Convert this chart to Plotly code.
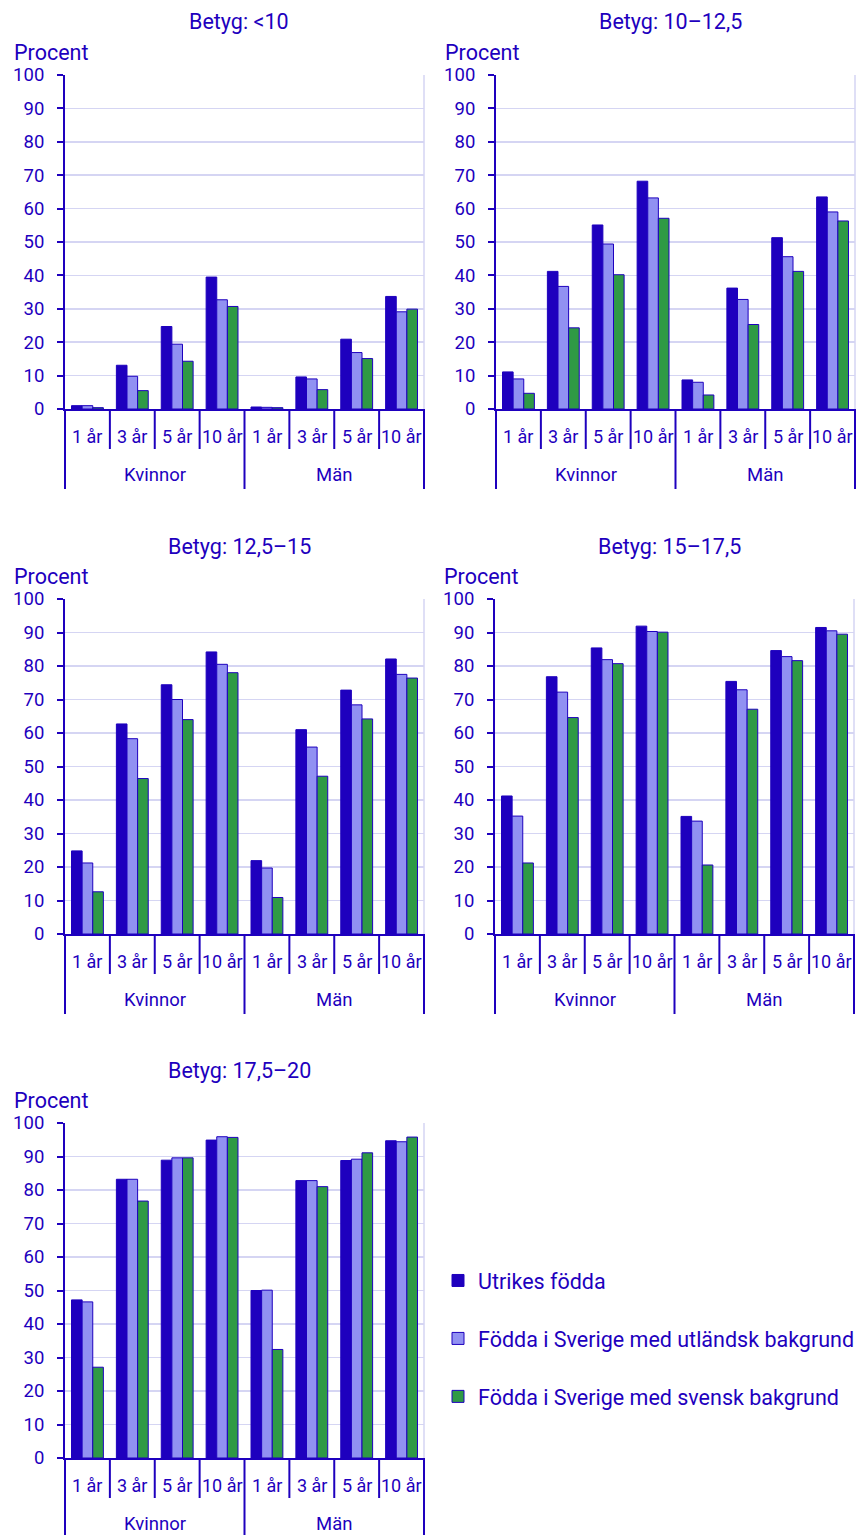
import plotly.graph_objects as go

# ---------------- data ----------------
genders = ["Kvinnor", "Män"]
years = ["1 år", "3 år", "5 år", "10 år"]
series_names = [
    "Utrikes födda",
    "Födda i Sverige med utländsk bakgrund",
    "Födda i Sverige med svensk bakgrund",
]
panel_titles = ["Betyg: <10", "Betyg: 10–12,5", "Betyg: 12,5–15", "Betyg: 15–17,5", "Betyg: 17,5–20"]
y_ticks = [0, 10, 20, 30, 40, 50, 60, 70, 80, 90, 100]
y_title = "Procent"

# values ordered Kvinnor 1,3,5,10 år, Män 1,3,5,10 år
lt10_utrikes = [1.0, 13.1, 24.7, 39.5, 0.6, 9.6, 20.9, 33.7]
lt10_utl_bakgrund = [1.0, 9.8, 19.4, 32.7, 0.5, 9.0, 16.9, 29.1]
lt10_sv_bakgrund = [0.4, 5.5, 14.3, 30.7, 0.4, 5.8, 15.1, 29.9]

b10_125_utrikes = [11.1, 41.2, 55.1, 68.2, 8.7, 36.2, 51.3, 63.5]
b10_125_utl_bakgrund = [9.0, 36.7, 49.4, 63.2, 8.0, 32.8, 45.6, 59.0]
b10_125_sv_bakgrund = [4.7, 24.3, 40.2, 57.1, 4.2, 25.3, 41.2, 56.3]

b125_15_utrikes = [24.8, 62.7, 74.4, 84.2, 21.9, 61.0, 72.8, 82.1]
b125_15_utl_bakgrund = [21.2, 58.3, 70.0, 80.5, 19.7, 55.8, 68.4, 77.5]
b125_15_sv_bakgrund = [12.6, 46.4, 64.0, 78.0, 10.9, 47.1, 64.2, 76.4]

b15_175_utrikes = [41.2, 76.8, 85.4, 91.9, 35.1, 75.4, 84.6, 91.5]
b15_175_utl_bakgrund = [35.2, 72.2, 81.9, 90.3, 33.7, 72.9, 82.8, 90.5]
b15_175_sv_bakgrund = [21.2, 64.6, 80.7, 90.1, 20.6, 67.1, 81.6, 89.5]

b175_20_utrikes = [47.2, 83.2, 88.9, 94.9, 50.0, 82.8, 88.8, 94.7]
b175_20_utl_bakgrund = [46.6, 83.2, 89.6, 95.9, 50.1, 82.8, 89.2, 94.4]
b175_20_sv_bakgrund = [27.1, 76.7, 89.6, 95.7, 32.4, 81.0, 91.1, 95.8]

panels = [
    [lt10_utrikes, lt10_utl_bakgrund, lt10_sv_bakgrund],
    [b10_125_utrikes, b10_125_utl_bakgrund, b10_125_sv_bakgrund],
    [b125_15_utrikes, b125_15_utl_bakgrund, b125_15_sv_bakgrund],
    [b15_175_utrikes, b15_175_utl_bakgrund, b15_175_sv_bakgrund],
    [b175_20_utrikes, b175_20_utl_bakgrund, b175_20_sv_bakgrund],
]

# ---------------- style ----------------
W, H = 856, 1535
DARK = "#1E00BE"
COLORS = ["#1E00BE", "#9191F2", "#2F9A45"]
GRID = "#D5D5F3"
FONT = "Roboto"

# panel plot areas in pixels: (left, right, top, bottom)
boxes = [
    (65, 424, 75, 409),
    (496, 855, 75, 409),
    (65, 424, 599, 934),
    (495, 854, 599, 934),
    (65, 424, 1123, 1458),
]

cats = [f"{g} {y}" for g in genders for y in years]

fig = go.Figure()
shapes = []
annotations = []

for p, (vals, box) in enumerate(zip(panels, boxes)):
    l, r, t, b = box
    pw, ph = r - l, b - t
    sfx = "" if p == 0 else str(p + 1)
    xname, yname = "x" + sfx, "y" + sfx
    for s, (name, v) in enumerate(zip(series_names, vals)):
        fig.add_trace(go.Bar(
            x=cats, y=v, name=name, xaxis=xname, yaxis=yname,
            marker=dict(color=COLORS[s], line=dict(color=DARK, width=1)),
            showlegend=(p == 0), legendgroup=str(s), offsetgroup=str(s),
            hoverinfo="skip",
        ))
    fig.layout["xaxis" + sfx] = dict(
        domain=[l / W, r / W], anchor=yname, type="category",
        categoryorder="array", categoryarray=cats, range=[-0.5, len(cats) - 0.5],
        showticklabels=False, ticks="", showgrid=False, zeroline=False,
        showline=True, linecolor=DARK, linewidth=2, fixedrange=True,
        automargin=False,
    )
    fig.layout["yaxis" + sfx] = dict(
        domain=[1 - b / H, 1 - t / H], anchor=xname, range=[0, 100],
        tickvals=y_ticks, ticks="outside", ticklen=6, tickwidth=2, tickcolor=DARK,
        showline=True, linecolor=DARK, linewidth=2,
        showgrid=True, gridcolor=GRID, gridwidth=1.5, zeroline=False,
        tickfont=dict(family=FONT, size=18.5, color=DARK), ticklabelstandoff=9,
        fixedrange=True, automargin=False,
    )
    xd, yd = xname + " domain", yname + " domain"
    # right border
    shapes.append(dict(type="line", xref=xd, yref=yd, x0=1, x1=1, y0=0, y1=1,
                       line=dict(color=GRID, width=1.5), layer="below"))
    # category separators
    n = len(cats)
    for k in range(n + 1):
        long_ = (k % len(years) == 0)
        depth = (80 if long_ else 40) / ph
        shapes.append(dict(type="line", xref=xd, yref=yd, x0=k / n, x1=k / n,
                           y0=0, y1=-depth, line=dict(color=DARK, width=2)))
    # year labels
    for c, cat in enumerate(cats):
        annotations.append(dict(text=years[c % len(years)], xref=xname, yref=yd,
                                x=cat, y=-27 / ph, showarrow=False,
                                xanchor="center", yanchor="middle",
                                font=dict(family=FONT, size=18, color=DARK)))
    # gender labels
    for gi, g in enumerate(genders):
        mid = gi * len(years) + (len(years) - 1) / 2
        annotations.append(dict(text=g, xref=xname, yref=yd, x=mid, y=-66 / ph,
                                showarrow=False, xanchor="center", yanchor="middle",
                                font=dict(family=FONT, size=18.5, color=DARK)))
    # title and y label
    annotations.append(dict(text=panel_titles[p], xref=xd, yref=yd, x=0.485,
                            y=1 + 53 / ph, showarrow=False, xanchor="center",
                            yanchor="middle", font=dict(family=FONT, size=21.5, color=DARK)))
    annotations.append(dict(text=y_title, xref=xd, yref=yd, x=-53 / pw,
                            y=1 + 23 / ph, showarrow=False, xanchor="left",
                            yanchor="middle", font=dict(family=FONT, size=21.5, color=DARK)))

fig.update_layout(
    width=W, height=H, margin=dict(l=0, r=0, t=0, b=0, pad=0, autoexpand=False),
    paper_bgcolor="white", plot_bgcolor="white",
    barmode="group", bargap=0.29, bargroupgap=0,
    shapes=shapes, annotations=annotations,
    font=dict(family=FONT, size=18, color=DARK),
    legend=dict(x=438 / W, y=1 - 1260 / H, xanchor="left", yanchor="top",
                font=dict(family=FONT, size=21.5, color=DARK),
                tracegroupgap=27, bgcolor="rgba(0,0,0,0)", borderwidth=0),
    showlegend=True,
)

fig.write_html(
    "out.html",
    config={"displayModeBar": False, "staticPlot": True},
    post_script="document.body.style.margin='0';document.body.style.padding='0';"
                "document.body.style.overflow='hidden';",
)
